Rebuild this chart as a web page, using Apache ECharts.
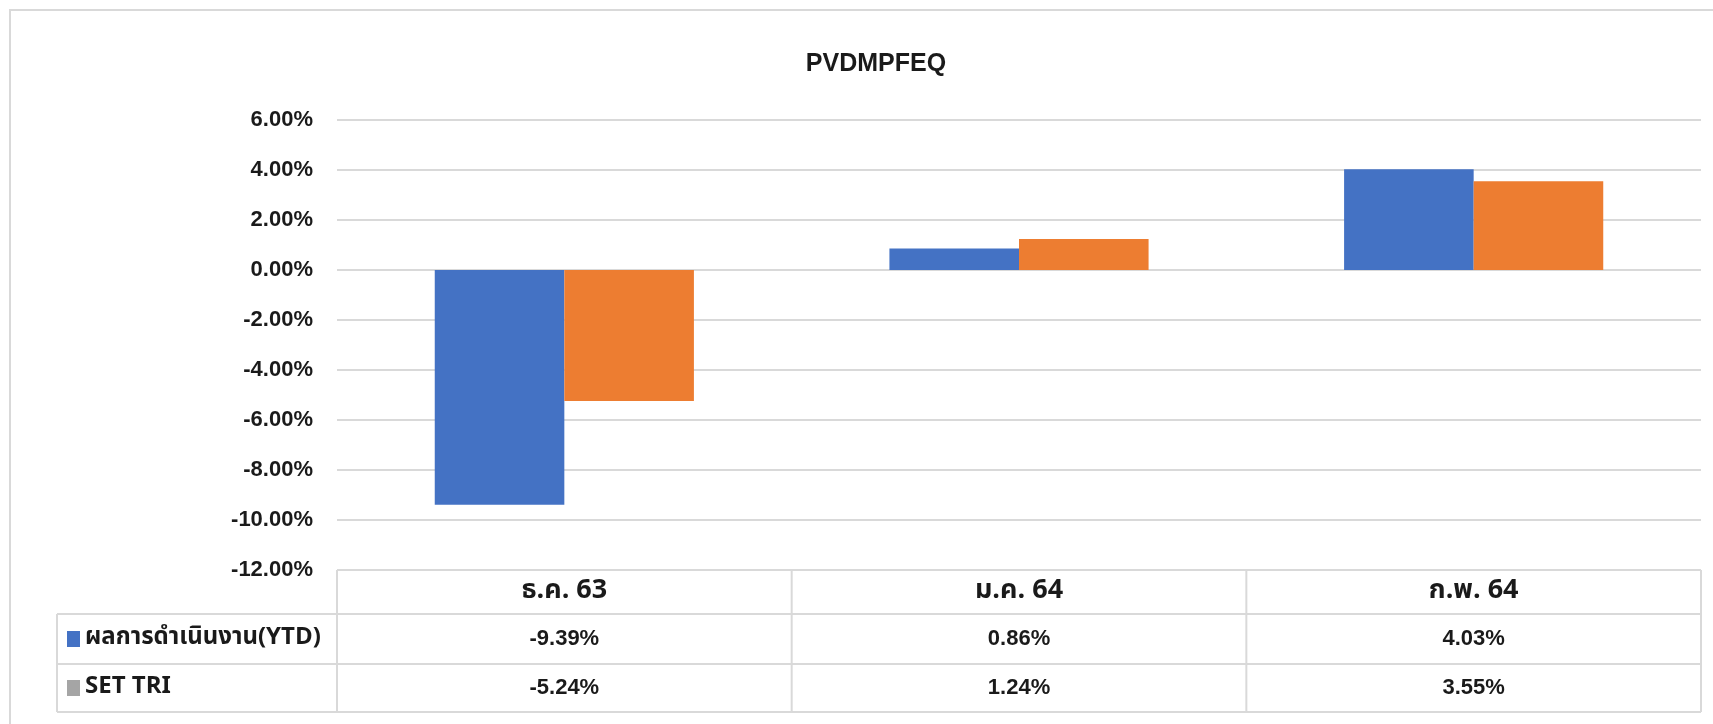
<!DOCTYPE html>
<html>
<head>
<meta charset="utf-8">
<script src="https://cdn.jsdelivr.net/npm/echarts@6/dist/echarts.min.js"></script>
<style>
html,body{margin:0;padding:0;background:#fff;}
#chart{width:1713px;height:724px;}
</style>
</head>
<body>
<div id="chart"></div>
<script>
// data
const categories=['ธ.ค. 63','ม.ค. 64','ก.พ. 64'];
const seriesNames=['ผลการดำเนินงาน(YTD)','SET TRI'];
const ytdValues=[-9.39,0.86,4.03];
const setTriValues=[-5.24,1.24,3.55];
const yTicks={min:-12,max:6,step:2};

//layout
const W=1713,H=724;
const gridLeft=337,gridRight=12,gridTop=120,gridBottom=154;
const rowTop=[570,614,664,712];
const tableLeft=57;
const gridCol='#d9d9d9';
const narrow='"Liberation Sans Narrow","Liberation Sans",Arial,sans-serif';
const thai='"Noto Sans Thai","Loma","Garuda","Tlwg Typo","Noto Sans",sans-serif';
const colors=['#4472C4','#ED7D31'];
const swatchCols=['#4472C4','#A5A5A5'];

let chart=echarts.init(document.getElementById('chart'),null,{renderer:'canvas'});

function fmt(v){return v.toFixed(2)+'%';}

/**表格部分*/
function buildTable(){
	let g=[];
	let plotW=W-gridLeft-gridRight;
	let cw=plotW/categories.length;
	let right=W-gridRight;
	let line=function(x1,y1,x2,y2){
		g.push({type:'line',shape:{x1,y1,x2,y2},style:{stroke:gridCol,lineWidth:2},z:10});
	};
	//横线
	line(gridLeft,rowTop[0],right,rowTop[0]);
	for(let i=1;i<rowTop.length;i++){
		line(tableLeft,rowTop[i],right,rowTop[i]);
	}
	//竖线
	line(tableLeft,rowTop[1],tableLeft,rowTop[3]);
	for(let i=0;i<=categories.length;i++){
		let x=gridLeft+cw*i;
		line(x,rowTop[0],x,rowTop[3]);
	}
	let rows=[ytdValues,setTriValues];
	categories.forEach(function(c,i){
		let cx=chart.convertToPixel({xAxisIndex:0},c);
		g.push({type:'text',x:cx,y:(rowTop[0]+rowTop[1])/2+1,z:11,style:{text:c,align:'center',verticalAlign:'middle',font:'bold 27px '+thai,fill:'#1a1a1a'}});
		rows.forEach(function(r,k){
			g.push({type:'text',x:cx,y:(rowTop[k+1]+rowTop[k+2])/2,z:11,style:{text:fmt(r[i]),align:'center',verticalAlign:'middle',font:'bold 22px '+narrow,fill:'#1a1a1a'}});
		});
	});
	seriesNames.forEach(function(n,k){
		let cy=(rowTop[k+1]+rowTop[k+2])/2;
		g.push({type:'rect',shape:{x:67,y:cy-8,width:13,height:16},style:{fill:swatchCols[k]},z:11});
		g.push({type:'text',x:85,y:cy,z:11,style:{text:n,align:'left',verticalAlign:'middle',font:'bold 24px '+thai,fill:'#1a1a1a'}});
	});
	//外框
	g.push({type:'rect',shape:{x:10,y:10,width:W+20,height:H+20},style:{fill:'none',stroke:gridCol,lineWidth:2},z:1});
	return g;
}

let option={
	backgroundColor:'#fff',
	animation:false,
	title:{
		text:'PVDMPFEQ',
		left:871,
		top:47,
		textAlign:'center',
		textStyle:{fontFamily:narrow,fontWeight:'bold',fontSize:25,color:'#1a1a1a'}
	},
	grid:{left:gridLeft,right:gridRight,top:gridTop,bottom:gridBottom,containLabel:false},
	xAxis:{
		type:'category',
		data:categories,
		axisLine:{show:false},
		axisTick:{show:false},
		axisLabel:{show:false},
		splitLine:{show:false}
	},
	yAxis:{
		type:'value',
		min:yTicks.min,
		max:yTicks.max,
		interval:yTicks.step,
		axisLine:{show:false},
		axisTick:{show:false},
		axisLabel:{
			margin:24,
			formatter:function(v){return fmt(v);},
			fontFamily:narrow,
			fontWeight:'bold',
			fontSize:22,
			color:'#1a1a1a'
		},
		splitLine:{lineStyle:{color:gridCol,width:2}}
	},
	series:[
		{name:seriesNames[0],type:'bar',data:ytdValues,barGap:'0%',barCategoryGap:'43%',itemStyle:{color:colors[0]}},
		{name:seriesNames[1],type:'bar',data:setTriValues,barGap:'0%',barCategoryGap:'43%',itemStyle:{color:colors[1]}}
	]
};
chart.setOption(option);
chart.setOption({graphic:buildTable()});
</script>
</body>
</html>
